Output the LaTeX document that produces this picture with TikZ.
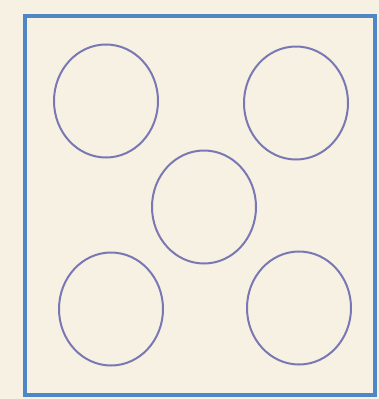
\documentclass[tikz,border=0pt]{standalone}
\definecolor{paper}{HTML}{F6F1E2}
\definecolor{frameblue}{HTML}{4F86C6}
\definecolor{ringcol}{HTML}{7A78B4}
\tikzset{
  ring/.style={draw=ringcol, line width=2pt, ellipse, minimum width=104pt, minimum height=113pt, inner sep=0pt},
  frame/.style={draw=frameblue, line width=4.5pt}
}
\usetikzlibrary{shapes.geometric}
\begin{document}
\begin{tikzpicture}[x=1pt,y=-1pt]
\useasboundingbox[fill=paper] (0,0) rectangle (379,399);
\draw[frame] (25,16) rectangle (375,395);
\node[ring] (tl) at (106,101) {};
\node[ring] (tr) at (296,103) {};
\node[ring] (c) at (204,207) {};
\node[ring] (bl) at (111,309) {};
\node[ring] (br) at (299,308) {};
\end{tikzpicture}
\end{document}
